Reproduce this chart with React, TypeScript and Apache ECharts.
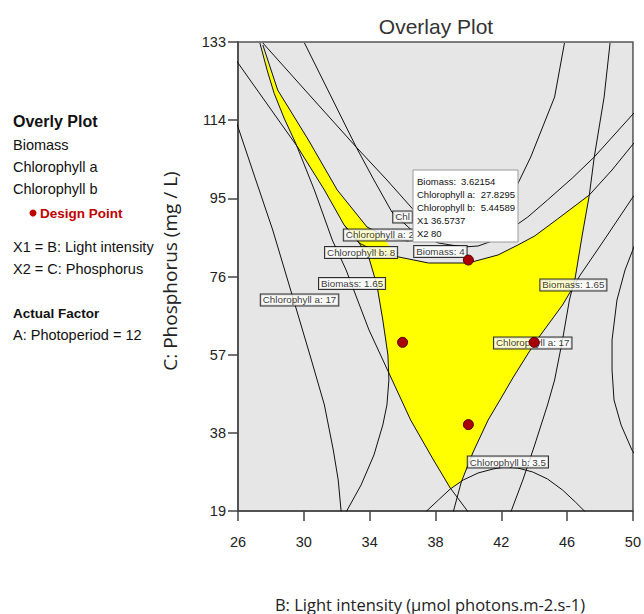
import React, { useEffect, useRef } from "react";
import * as echarts from "echarts";

// ---- axes ----
const xMin = 26, xMax = 50, xStep = 4;
const yMin = 19, yMax = 133, yStep = 19;

// ---- design points (B: light intensity, C: phosphorus) ----
const designPoints = [[40, 80], [36, 60], [44, 60], [40, 40]];

// ---- contour curves ----
const biomass165Left = [[27.33,132.76],[27.78,126.0],[28.20,120.5],[28.80,114.5],[29.50,108.45],[30.64,97.03],[31.73,84.87],[32.57,77.58],[33.96,63.0],[35.17,52.54],[36.49,41.12],[37.88,31.40],[38.90,24.59],[39.99,18.76]];
const biomass165Right = [[48.61,132.76],[48.25,119.63],[47.65,105.05],[47.35,95.81],[46.92,86.09],[46.50,75.88],[46.14,70.29],[45.72,60.57],[45.24,50.84],[44.81,44.77],[44.03,35.05],[43.31,26.54],[42.58,18.76]];
const biomass4 = [[27.51,132.76],[30.34,120.12],[33.18,107.48],[35.05,99.46],[36.67,92.17],[38.18,88.52],[39.69,87.06],[41.20,88.28],[42.10,91.44],[42.82,97.03],[43.79,105.05],[45.24,119.63],[45.84,132.76]];
const chlA27Outer = [[30.04,132.76],[31.61,120.12],[33.18,107.48],[34.26,99.46],[35.35,91.68],[36.67,86.82],[38.18,84.14],[39.69,83.17],[40.59,83.41],[41.62,84.87],[42.40,87.06],[43.61,90.46],[44.81,94.60],[46.32,99.94],[47.65,105.05],[50.06,115.74]];
const chlA27Inner = [[27.51,132.27],[28.41,121.33],[30.28,109.18],[32.03,97.03],[33.84,88.03],[35.17,85.36],[36.37,84.63]];
const chlA17Left = [[25.76,115.26],[26.0,112.34],[27.02,100.19],[28.11,87.30],[29.38,70.29],[30.46,55.70],[31.25,44.77],[31.79,33.83],[32.09,26.54],[32.27,18.76]];
const chlA17Right = [[50.54,97.75],[50.0,95.32],[48.25,84.87],[46.80,76.36],[45.72,69.07],[44.03,59.84],[42.70,51.33],[41.92,45.98],[41.20,41.12],[40.29,33.34],[39.57,26.05],[39.08,18.76]];
const chlB8 = [[25.64,129.84],[26.0,127.90],[27.81,117.69],[29.62,107.48],[31.25,97.03],[32.45,88.52],[33.36,84.14],[34.56,81.71],[35.77,80.74],[37.58,79.28],[39.99,79.28],[41.80,81.23],[43.01,83.66],[44.03,85.85],[45.42,89.98],[47.35,95.81],[48.73,101.89],[50.06,108.45]];
const chlBInner = [[32.45,88.52],[33.24,84.87],[33.96,80.50],[34.44,73.94],[34.80,65.43],[35.11,56.92],[35.17,50.84],[35.05,44.77],[34.80,39.90],[34.26,32.61],[33.48,25.32],[32.57,18.76]];
const chlB35 = [[37.40,18.76],[38.18,21.68],[38.90,24.35],[39.69,26.54],[40.59,28.24],[41.50,29.21],[42.22,29.70],[43.00,29.45],[43.91,28.48],[44.81,26.78],[45.72,24.11],[46.50,21.19],[47.11,18.76]];
const rightEdgeCurve = [[50.54,88.52],[50.06,83.17],[49.52,77.58],[49.03,70.29],[48.73,60.57],[48.73,53.28],[48.85,45.98],[49.28,39.90],[49.94,33.83],[50.54,30.18]];

// ---- yellow feasible region outline ----
const feasibleRegion = [[27.39,132.27],[28.41,121.33],[30.28,109.18],[32.03,97.03],[33.84,88.03],[34.86,85.36],[35.65,80.74],[37.58,79.28],[39.99,79.28],[41.80,81.23],[43.01,83.66],[44.03,85.85],[45.42,89.98],[47.35,95.81],[46.92,86.09],[46.50,75.88],[46.32,73.20],[45.72,69.07],[44.03,59.84],[42.70,51.33],[41.92,45.98],[41.20,41.12],[40.29,33.34],[39.57,26.05],[38.90,24.35],[37.88,31.40],[36.49,41.12],[35.17,52.54],[35.11,56.92],[34.80,65.43],[34.44,73.94],[33.96,80.50],[33.24,84.87],[32.45,88.52],[31.25,97.03],[29.62,107.48],[29.50,108.45],[28.80,114.5],[28.20,120.5],[27.78,126.0]];

// ---- contour labels (two of them are partly hidden by the flag) ----
const labelTexts = ["Chl", "Chlorophyll a: 2", "Chlorophyll b: 8", "Biomass: 4", "Biomass: 1.65", "Chlorophyll a: 17", "Biomass: 1.65", "Chlorophyll a: 17", "Chlorophyll b: 3.5"];
const labelPos = [[36.0,90.47],[34.62,86.09],[33.48,81.84],[38.30,82.08],[32.93,74.30],[29.74,70.29],[46.38,73.94],[43.91,59.84],[42.40,30.91]];

// ---- flag (tooltip) ----
const flagNames = ["Biomass:", "Chlorophyll a:", "Chlorophyll b:", "X1", "X2"];
const flagValues = ["3.62154", "27.8295", "5.44589", "36.5737", "80"];

// ---- side legend ----
const legendLines = ["Biomass", "Chlorophyll a", "Chlorophyll b"];
const factorLines = ["X1 = B: Light intensity", "X2 = C: Phosphorus"];

const SANS = "'Liberation Sans', Arial, sans-serif";
const OPEN = "'Open Sans', 'Noto Sans', sans-serif";

export default function App() {
  const ref = useRef<HTMLDivElement>(null);
  useEffect(() => {
    if (!ref.current) return;
    const chart = echarts.init(ref.current, null, { renderer: "svg" });
    const curves = [biomass165Left, biomass165Right, biomass4, chlA27Outer, chlA27Inner, chlA17Left, chlA17Right, chlB8, chlBInner, chlB35, rightEdgeCurve];
    const lineSeries = curves.map((c) => ({
      type: "line",
      data: c,
      symbol: "none",
      showSymbol: false,
      clip: true,
      silent: true,
      z: 2,
      lineStyle: { color: "#111", width: 1 },
    }));
    const flagY = [181, 194, 207, 220, 233];
    const flagChildren: any[] = [
      { type: "rect", z: 100, shape: { x: 413, y: 170, width: 105, height: 72 }, style: { fill: "#fff", stroke: "#9a9a9a", lineWidth: 1 } },
    ];
    flagNames.forEach((n, i) => {
      flagChildren.push({ type: "text", z: 101, x: 417, y: flagY[i], style: { text: n, fill: "#111", font: `9.5px ${SANS}`, textVerticalAlign: "middle" } });
    });
    const valX = [461, 515, 515, 431, 431];
    const valAlign = ["left", "right", "right", "left", "left"];
    flagValues.forEach((v, i) => {
      flagChildren.push({ type: "text", z: 101, x: valX[i], y: flagY[i], style: { text: v, fill: "#111", font: `9.5px ${SANS}`, textAlign: valAlign[i], textVerticalAlign: "middle" } });
    });
    const legendChildren: any[] = [
      { type: "text", z: 100, x: 13, y: 121, style: { text: "Overly Plot", fill: "#111", font: `bold 16px ${SANS}`, textVerticalAlign: "middle" } },
      ...legendLines.map((t, i) => ({ type: "text", z: 100, x: 13, y: 145 + i * 22, style: { text: t, fill: "#111", font: `14.5px ${SANS}`, textVerticalAlign: "middle" } })),
      { type: "circle", z: 100, shape: { cx: 33, cy: 213, r: 3.5 }, style: { fill: "#c00000" } },
      { type: "text", z: 100, x: 40, y: 213, style: { text: "Design Point", fill: "#c00000", font: `bold 13.5px ${SANS}`, textVerticalAlign: "middle" } },
      ...factorLines.map((t, i) => ({ type: "text", z: 100, x: 13, y: 247 + i * 22, style: { text: t, fill: "#111", font: `14.5px ${SANS}`, textVerticalAlign: "middle" } })),
      { type: "text", z: 100, x: 13, y: 313, style: { text: "Actual Factor", fill: "#111", font: `bold 13.5px ${SANS}`, textVerticalAlign: "middle" } },
      { type: "text", z: 100, x: 13, y: 335, style: { text: "A: Photoperiod = 12", fill: "#111", font: `14.5px ${SANS}`, textVerticalAlign: "middle" } },
    ];
    chart.setOption({
      animation: false,
      backgroundColor: "#fff",
      grid: { left: 238, top: 42, width: 398, height: 469, show: true, backgroundColor: "#e6e6e6", borderColor: "#555", borderWidth: 1.5 },
      xAxis: {
        type: "value", min: xMin, max: xMax, interval: xStep,
        axisLine: { show: true, lineStyle: { color: "#444", width: 1.5 } },
        axisTick: { show: true, inside: false, length: 10, lineStyle: { color: "#444", width: 1.5 } },
        axisLabel: { color: "#222", fontSize: 14.5, fontFamily: SANS, margin: 23 },
        splitLine: { show: false },
      },
      yAxis: {
        type: "value", min: yMin, max: yMax, interval: yStep,
        axisLine: { show: true, lineStyle: { color: "#444", width: 1.5 } },
        axisTick: { show: true, inside: false, length: 10, lineStyle: { color: "#444", width: 1.5 } },
        axisLabel: { color: "#222", fontSize: 14.5, fontFamily: SANS, margin: 12 },
        splitLine: { show: false },
      },
      series: [
        {
          type: "custom",
          data: [[xMin, yMin]],
          clip: true,
          silent: true,
          z: 1,
          renderItem: (_p: any, api: any) => ({
            type: "polygon",
            shape: { points: feasibleRegion.map((p) => api.coord(p)) },
            style: { fill: "#ffff00", stroke: "none" },
          }),
        },
        ...lineSeries,
        {
          type: "scatter",
          z: 4,
          symbolSize: 0,
          silent: true,
          data: labelPos.map((p, i) => ({ value: p, name: labelTexts[i] })),
          label: {
            show: true, position: "inside", formatter: "{b}", color: "#000",
            fontSize: 9.8, fontFamily: SANS, lineHeight: 11,
            backgroundColor: "#fff", borderColor: "#000", borderWidth: 1, padding: [0, 2, 0, 2],
          },
        },
        {
          type: "scatter",
          z: 6,
          symbolSize: 10,
          silent: true,
          data: designPoints,
          itemStyle: { color: "#a80000", borderColor: "#550000", borderWidth: 1, opacity: 1 },
        },
      ],
      graphic: [
        { type: "text", x: 436, y: 26, z: 100, style: { text: "Overlay Plot", fill: "#333", font: `21px ${SANS}`, textAlign: "center", textVerticalAlign: "middle" } },
        { type: "text", x: 170, y: 271, z: 100, rotation: Math.PI / 2, style: { text: "C: Phosphorus (mg / L)", fill: "#222", font: `19px ${OPEN}`, textAlign: "center", textVerticalAlign: "middle" } },
        { type: "text", x: 430, y: 604, z: 100, style: { text: "B: Light intensity (\u03bcmol photons.m-2.s-1)", fill: "#222", font: `16.5px ${OPEN}`, textAlign: "center", textVerticalAlign: "middle" } },
        { type: "group", z: 100, children: flagChildren },
        { type: "group", z: 100, children: legendChildren },
      ],
    });
    return () => chart.dispose();
  }, []);
  return <div ref={ref} style={{ position: "fixed", left: 0, top: 0, width: 644, height: 614, background: "#fff" }} />;
}
